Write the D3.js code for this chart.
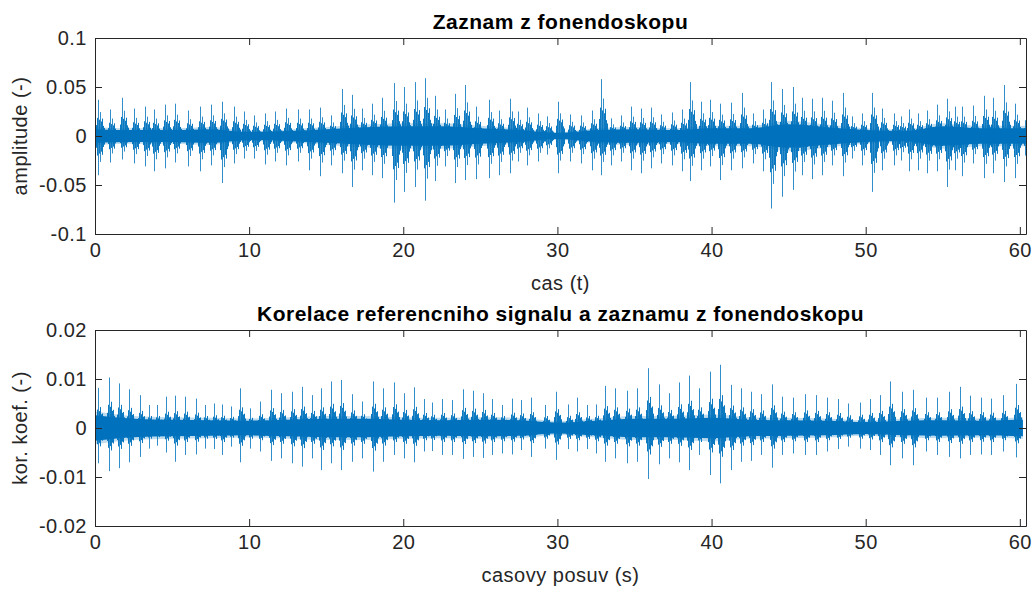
<!DOCTYPE html>
<html>
<head>
<meta charset="utf-8">
<script src="https://cdn.jsdelivr.net/npm/d3@7"></script>
<style>
  body { margin: 0; background: #fff; }
  svg text { font-family: "Liberation Sans", Arial, Helvetica, sans-serif; }
</style>
</head>
<body>
<svg id="fig" width="1033" height="590"></svg>
<script>
// ---- Recording from the stethoscope: heartbeat times (s) and spike extremes ----
const recBeatTime = [0.19,0.99,1.75,2.51,3.22,3.85,4.52,5.21,6.03,6.83,7.50,8.24,8.99,9.64,10.29,11.01,11.70,12.39,13.15,13.86,14.62,15.31,16.02,16.67,17.32,17.97,18.62,19.37,
  20.04,20.73,21.38,22.03,22.68,23.33,24.02,24.73,25.54,26.20,26.94,27.44,28.04,28.73,29.34,30.05,30.79,31.54,32.26,32.84,33.49,34.14,34.75,35.44,36.09,36.73,37.45,38.10,38.62,39.29,39.87,
  40.54,41.23,41.97,42.70,43.35,43.83,44.58,45.28,45.88,46.53,47.18,47.83,48.54,49.13,49.77,50.42,51.07,51.83,52.30,52.80,53.41,53.99,54.63,55.29,55.78,56.26,56.97,57.66,58.27,58.96,59.71,60.35];
const recBeatHigh = [0.037,0.027,0.039,0.028,0.030,0.027,0.032,0.033,0.026,0.030,0.032,0.035,0.030,0.025,0.021,0.023,0.025,0.028,0.027,0.027,0.029,0.021,0.048,0.042,0.028,0.033,0.039,0.054,
  0.050,0.055,0.059,0.041,0.027,0.043,0.052,0.030,0.037,0.026,0.038,0.025,0.029,0.023,0.020,0.035,0.022,0.021,0.026,0.058,0.018,0.021,0.030,0.028,0.029,0.022,0.024,0.027,0.055,0.035,0.037,
  0.033,0.034,0.044,0.023,0.027,0.055,0.048,0.050,0.039,0.038,0.039,0.036,0.044,0.020,0.023,0.044,0.028,0.023,0.020,0.027,0.023,0.026,0.032,0.038,0.030,0.030,0.031,0.041,0.039,0.052,0.033,0.016];
const recBeatLow = [-0.040,-0.027,-0.024,-0.028,-0.031,-0.036,-0.033,-0.027,-0.031,-0.036,-0.030,-0.048,-0.028,-0.023,-0.023,-0.029,-0.026,-0.030,-0.026,-0.035,-0.041,-0.030,-0.038,-0.052,-0.035,-0.040,-0.043,-0.068,
  -0.057,-0.052,-0.066,-0.046,-0.031,-0.048,-0.045,-0.044,-0.043,-0.040,-0.038,-0.026,-0.030,-0.026,-0.019,-0.038,-0.026,-0.028,-0.035,-0.040,-0.030,-0.026,-0.035,-0.038,-0.033,-0.028,-0.030,-0.036,-0.046,-0.035,-0.031,
  -0.045,-0.035,-0.033,-0.028,-0.036,-0.074,-0.062,-0.055,-0.040,-0.044,-0.040,-0.030,-0.041,-0.023,-0.030,-0.057,-0.035,-0.030,-0.025,-0.036,-0.035,-0.038,-0.036,-0.052,-0.035,-0.041,-0.028,-0.043,-0.038,-0.047,-0.043,-0.020];
// half-width of the dense background between beats
const recNoiseTime = [0,2.5,5,7.5,10,12.5,15,17.5,20,22.5,25,27.5,30,32.5,35,37.5,40,42.5,45,47.5,50,52.5,55,57.5,60.4];
const recNoise = [0.007,0.006,0.006,0.007,0.004,0.005,0.007,0.009,0.010,0.010,0.008,0.006,0.003,0.006,0.007,0.006,0.008,0.008,0.012,0.009,0.006,0.005,0.010,0.008,0.008];

// ---- Correlation of the reference signal with the recording ----
const corBeatTime = [0.19,0.93,1.58,2.23,2.90,3.48,4.00,4.60,5.21,5.86,6.55,7.16,7.70,8.24,8.84,9.40,10.08,10.72,11.44,12.09,12.78,13.43,14.08,14.68,15.33,15.98,16.67,17.32,18.01,18.66,19.37,
  20.04,20.67,21.32,21.88,22.53,23.18,23.87,24.52,25.17,25.78,26.42,27.05,27.66,28.30,29.17,29.92,30.68,31.29,31.93,32.52,33.10,33.75,34.51,35.18,35.89,36.58,37.23,37.88,38.53,39.18,39.87,
  40.54,41.23,41.92,42.57,43.24,43.89,44.58,45.30,46.03,46.75,47.51,48.20,48.87,49.60,50.27,50.96,51.60,52.37,53.08,53.88,54.64,55.40,56.09,56.76,57.45,58.14,58.92,59.72];
const corBeatHigh = [0.0082,0.0103,0.0091,0.0079,0.0067,0.0047,0.0047,0.0064,0.0066,0.0064,0.0060,0.0047,0.0050,0.0048,0.0044,0.0081,0.0040,0.0054,0.0078,0.0071,0.0074,0.0084,0.0067,0.0081,0.0095,0.0098,0.0069,0.0054,0.0095,0.0081,0.0093,
  0.0071,0.0083,0.0059,0.0052,0.0059,0.0057,0.0079,0.0076,0.0071,0.0059,0.0047,0.0060,0.0057,0.0062,0.0047,0.0074,0.0048,0.0062,0.0047,0.0048,0.0086,0.0081,0.0076,0.0081,0.0122,0.0089,0.0071,0.0093,0.0107,0.0081,0.0115,
  0.0129,0.0088,0.0081,0.0074,0.0069,0.0089,0.0064,0.0062,0.0069,0.0067,0.0062,0.0059,0.0050,0.0052,0.0059,0.0067,0.0095,0.0074,0.0078,0.0062,0.0062,0.0074,0.0084,0.0066,0.0062,0.0060,0.0067,0.0090];
const corBeatLow = [-0.0072,-0.0088,-0.0082,-0.0070,-0.0059,-0.0042,-0.0036,-0.0050,-0.0069,-0.0055,-0.0054,-0.0042,-0.0043,-0.0055,-0.0038,-0.0070,-0.0042,-0.0048,-0.0067,-0.0062,-0.0072,-0.0079,-0.0062,-0.0086,-0.0072,-0.0086,-0.0069,-0.0062,-0.0089,-0.0069,-0.0055,
  -0.0062,-0.0070,-0.0048,-0.0047,-0.0055,-0.0055,-0.0063,-0.0059,-0.0061,-0.0055,-0.0052,-0.0054,-0.0045,-0.0059,-0.0042,-0.0065,-0.0043,-0.0048,-0.0043,-0.0052,-0.0069,-0.0062,-0.0072,-0.0069,-0.0104,-0.0074,-0.0062,-0.0070,-0.0086,-0.0055,-0.0096,
  -0.0113,-0.0086,-0.0069,-0.0067,-0.0055,-0.0081,-0.0055,-0.0052,-0.0055,-0.0055,-0.0048,-0.0043,-0.0038,-0.0042,-0.0045,-0.0055,-0.0076,-0.0062,-0.0076,-0.0048,-0.0055,-0.0059,-0.0062,-0.0055,-0.0054,-0.0055,-0.0048,-0.0060];
const corNoiseTime = [0,2.5,5,7.5,10,12.5,15,17.5,20,22.5,25,27.5,30,32.5,35,37.5,40,42.5,45,47.5,50,52.5,55,57.5,60.2];
const corNoise = [0.0026,0.0019,0.0017,0.0016,0.0015,0.0017,0.0019,0.0019,0.0017,0.0016,0.0017,0.0016,0.0011,0.0015,0.0019,0.0019,0.0021,0.0017,0.0016,0.0015,0.0012,0.0015,0.0016,0.0015,0.0017];

// ---- Axes ----
const xDomain = [0, 60.4];
const xTicks = [0, 10, 20, 30, 40, 50, 60];
const xTickLabels = ["0", "10", "20", "30", "40", "50", "60"];
const recYTicks = [-0.1, -0.05, 0, 0.05, 0.1];
const recYTickLabels = ["-0.1", "-0.05", "0", "0.05", "0.1"];
const corYTicks = [-0.02, -0.01, 0, 0.01, 0.02];
const corYTickLabels = ["-0.02", "-0.01", "0", "0.01", "0.02"];

// shape of one heart-sound burst: [pixel offset, fraction of the spike extreme]
const recBurst = [[-2,0.3],[-1,0.5],[0,1],[1,0.45],[2,0.66],[3,0.4],[4,0.48],[5,0.28],[6,0.22]];
const corBurst = [[-2,0.3],[-1,0.46],[0,1],[1,0.42],[2,0.52],[3,0.34],[4,0.36],[5,0.24]];

const blue = "#0072BD", ink = "#262626";
const svg = d3.select("#fig");
const left = 95, right = 1026;

const panels = [
  { id: "rec", top: 38, height: 196, time: recBeatTime, high: recBeatHigh, low: recBeatLow,
    noiseTime: recNoiseTime, noise: recNoise, yDomain: [-0.1, 0.1], yTicks: recYTicks, yLabels: recYTickLabels,
    burst: recBurst, title: "Zaznam z fonendoskopu", xTitle: "cas (t)", yTitle: "amplitude (-)" },
  { id: "cor", top: 330, height: 196, time: corBeatTime, high: corBeatHigh, low: corBeatLow,
    noiseTime: corNoiseTime, noise: corNoise, yDomain: [-0.02, 0.02], yTicks: corYTicks, yLabels: corYTickLabels,
    burst: corBurst, title: "Korelace referencniho signalu a zaznamu z fonendoskopu", xTitle: "casovy posuv (s)", yTitle: "kor. koef. (-)" }
];

panels.forEach(p => {
  const bottom = p.top + p.height;
  const x = d3.scaleLinear().domain(xDomain).range([left, right]);
  const y = d3.scaleLinear().domain(p.yDomain).range([bottom, p.top]);

  svg.append("clipPath").attr("id", "clip-" + p.id)
    .append("rect").attr("x", left).attr("y", p.top).attr("width", right - left).attr("height", p.height);

  const g = svg.append("g").attr("clip-path", `url(#clip-${p.id})`);

  // dense background of the signal, with a faint fringe
  const band = p.noiseTime.map((t, i) => ({ t, v: p.noise[i] }));
  const area = k => d3.area().x(d => x(d.t)).y0(d => y(-d.v * k)).y1(d => y(d.v * k)).curve(d3.curveMonotoneX);
  g.append("path").datum(band).attr("d", area(1.3)).attr("fill", blue).attr("opacity", 0.25);
  g.append("path").datum(band).attr("d", area(1)).attr("fill", blue);

  // heartbeat bursts, snapped to the pixel grid
  const lines = [];
  p.time.forEach((t, i) => {
    const px = Math.round(x(t)) + 0.5;
    p.burst.forEach(([dx, f]) => lines.push({ x: px + dx, y1: y(p.high[i] * f), y2: y(p.low[i] * f), f }));
  });
  g.selectAll("line.sig").data(lines).join("line")
    .attr("class", "sig")
    .attr("x1", d => d.x).attr("x2", d => d.x)
    .attr("y1", d => d.y1).attr("y2", d => d.y2)
    .attr("stroke", blue).attr("stroke-width", 1)
    .attr("opacity", d => d.f > 0.65 ? 0.8 : 0.95);

  // box with inward ticks
  const tick = 7;
  const ax = svg.append("g").attr("color", ink);
  ax.append("g").attr("transform", `translate(0,${bottom})`)
    .call(d3.axisBottom(x).tickValues(xTicks).tickFormat((d, i) => xTickLabels[i]).tickSizeInner(-tick).tickSizeOuter(0).tickPadding(9));
  ax.append("g").attr("transform", `translate(0,${p.top})`)
    .call(d3.axisTop(x).tickValues(xTicks).tickFormat("").tickSizeInner(-tick).tickSizeOuter(0));
  ax.append("g").attr("transform", `translate(${left},0)`)
    .call(d3.axisLeft(y).tickValues(p.yTicks).tickFormat((d, i) => p.yLabels[i]).tickSizeInner(-tick).tickSizeOuter(0).tickPadding(8));
  ax.append("g").attr("transform", `translate(${right},0)`)
    .call(d3.axisRight(y).tickValues(p.yTicks).tickFormat("").tickSizeInner(-tick).tickSizeOuter(0));
  ax.selectAll("text").attr("font-size", 20).attr("letter-spacing", 0.5)
    .attr("font-family", '"Liberation Sans", Arial, sans-serif').attr("fill", ink);
  ax.selectAll("path.domain, line").attr("stroke", ink);

  // titles and axis labels
  const cx = (left + right) / 2;
  svg.append("text").attr("x", cx).attr("y", p.top - 9).attr("text-anchor", "middle")
    .attr("font-size", 21).attr("font-weight", "bold").attr("letter-spacing", 0.5).attr("fill", "#000")
    .text(p.title);
  svg.append("text").attr("x", cx).attr("y", bottom + 56).attr("text-anchor", "middle")
    .attr("font-size", 20).attr("letter-spacing", 0.5).attr("fill", ink)
    .text(p.xTitle);
  svg.append("text").attr("transform", `translate(27,${p.top + p.height / 2}) rotate(-90)`)
    .attr("text-anchor", "middle").attr("font-size", 20).attr("letter-spacing", 0.5).attr("fill", ink)
    .text(p.yTitle);
});
</script>
</body>
</html>
